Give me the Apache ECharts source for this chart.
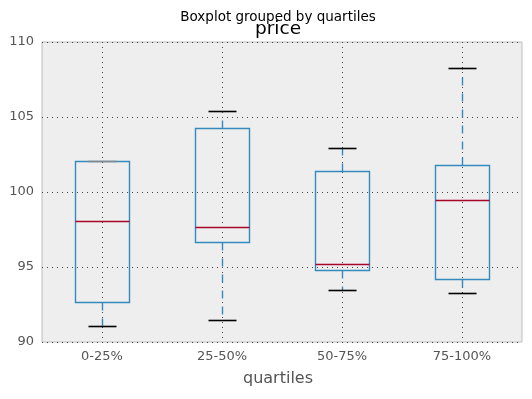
<!DOCTYPE html>
<html>
<head>
<meta charset="utf-8">
<script src="https://cdn.jsdelivr.net/npm/echarts@6/dist/echarts.min.js"></script>
<style>
  html, body { margin: 0; padding: 0; background: #fff; }
  #chart { width: 532px; height: 399px; }
</style>
</head>
<body>
<div id="chart"></div>
<script>
// values
const categories = ['0-25%', '25-50%', '50-75%', '75-100%'];
const lowerWhisker = [91.1, 91.45, 93.5, 93.25];
const q1 = [92.65, 96.65, 94.8, 94.2];
const median = [98.1, 97.65, 95.2, 99.45];
const q3 = [102.05, 104.25, 101.4, 101.8];
const upperWhisker = [102.05, 105.4, 102.9, 108.25];
const yTicks = [90, 95, 100, 105, 110];

const boxColor = '#348ABD';
const medianColor = '#A60628';
const gridLine = { color: '#444', width: 1, type: [1, 4] };

let myChart = echarts.init(document.getElementById('chart'));

let data = categories.map(function (c, i) {
    return [i, lowerWhisker[i], q1[i], median[i], q3[i], upperWhisker[i]];
});

function px(v) { return Math.round(v) + 0.5; }

function renderBox(params, api) {
    let idx = api.value(0);
    let cx = px(api.coord([idx, 0])[0]);
    let band = api.size([1, 0])[0];
    let half = Math.round(band * 0.45 / 2);
    let capHalf = Math.round(band * 0.24 / 2);
    let y = function (v) { return px(api.coord([idx, v])[1]); };
    let yLw = y(api.value(1)), yQ1 = y(api.value(2)), yMed = y(api.value(3));
    let yQ3 = y(api.value(4)), yUw = y(api.value(5));
    let cs = params.coordSys;
    let seg = function (x1, y1, x2, y2, style) {
        return { type: 'line', shape: { x1: x1, y1: y1, x2: x2, y2: y2 }, style: style, silent: true };
    };
    let whisk = { stroke: boxColor, lineWidth: 1.4, lineDash: [8, 8] };
    return {
        type: 'group',
        children: [
            // vertical grid line through the category
            seg(cx, cs.y, cx, cs.y + cs.height, { stroke: gridLine.color, lineWidth: 1, lineDash: [1, 4] }),
            seg(cx, yQ1, cx, yLw, whisk),
            seg(cx, yQ3, cx, yUw, whisk),
            { type: 'rect', shape: { x: cx - half, y: yQ3, width: half * 2, height: yQ1 - yQ3 },
              style: { fill: 'none', stroke: boxColor, lineWidth: 1.4 }, silent: true },
            seg(cx - capHalf, yLw, cx + capHalf, yLw, { stroke: '#000', lineWidth: 1.6 }),
            seg(cx - capHalf, yUw, cx + capHalf, yUw, { stroke: yUw === yQ3 ? '#888' : '#000', lineWidth: 1.6 }),
            seg(cx - half, yMed, cx + half, yMed, { stroke: medianColor, lineWidth: 1.4 })
        ]
    };
}

let option = {
    backgroundColor: '#fff',
    animation: false,
    textStyle: { fontFamily: 'DejaVu Sans' },
    grid: {
        left: 42, right: 10, top: 42, bottom: 57,
        show: true,
        backgroundColor: '#eeeeee',
        borderColor: '#bcbcbc',
        borderWidth: 1
    },
    xAxis: {
        type: 'category',
        data: categories,
        axisLine: { show: false },
        axisTick: { show: false },
        splitLine: { show: false },
        axisLabel: { color: '#555', fontSize: 13, margin: 8, fontFamily: 'DejaVu Sans' }
    },
    yAxis: {
        type: 'value',
        min: yTicks[0],
        max: yTicks[yTicks.length - 1],
        interval: yTicks[1] - yTicks[0],
        axisLine: { show: false },
        axisTick: { show: false },
        splitLine: { show: true, lineStyle: gridLine },
        axisLabel: { color: '#555', fontSize: 13, margin: 8, fontFamily: 'DejaVu Sans' }
    },
    graphic: [
        { type: 'text', x: 278, y: 17, style: { text: 'Boxplot grouped by quartiles', fill: '#000',
          font: '13.5px "DejaVu Sans"', textAlign: 'center', textVerticalAlign: 'middle' } },
        { type: 'text', x: 278, y: 29, style: { text: 'price', fill: '#000',
          font: '18.5px "DejaVu Sans"', textAlign: 'center', textVerticalAlign: 'middle' } },
        { type: 'text', x: 278, y: 379, style: { text: 'quartiles', fill: '#555',
          font: '16px "DejaVu Sans"', textAlign: 'center', textVerticalAlign: 'middle' } }
    ],
    series: [{
        type: 'custom',
        renderItem: renderBox,
        encode: { x: 0, y: [1, 2, 3, 4, 5] },
        data: data,
        silent: true
    }]
};
myChart.setOption(option);
</script>
</body>
</html>
